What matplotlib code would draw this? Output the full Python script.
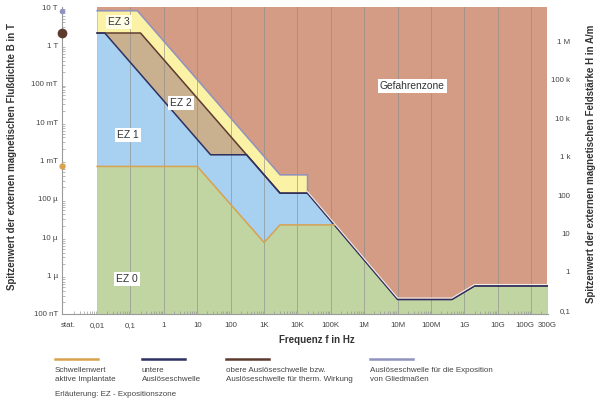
import numpy as np
import matplotlib.pyplot as plt
from matplotlib.lines import Line2D
from matplotlib.ticker import LogLocator, NullLocator
from matplotlib.transforms import offset_copy

plt.rcParams['font.family'] = ['Liberation Sans', 'DejaVu Sans']

MU0 = 4e-7 * np.pi

# Grenzwerte als Spitzenwerte: Frequenz in Hz, Flussdichte in T
limbs_f = [0.01, 0.16, 3e3, 2e4, 2e4, 1e7, 4.2e8, 2e9, 3e11]
limbs_b = [8.0, 8.0, 4.24e-4, 4.24e-4, 1.41e-4, 2.4e-7, 2.4e-7, 5.4e-7, 5.4e-7]
upper_f = [0.01, 0.2, 3e3, 2e4, 1e7, 4.2e8, 2e9, 3e11]
upper_b = [2.1, 2.1, 1.41e-4, 1.41e-4, 2.4e-7, 2.4e-7, 5.4e-7, 5.4e-7]
lower_f = [0.01, 0.017, 25, 300, 3e3, 2e4, 1e7, 4.2e8, 2e9, 3e11]
lower_b = [2.1, 2.1, 1.41e-3, 1.41e-3, 1.41e-4, 1.41e-4, 2.4e-7, 2.4e-7, 5.4e-7, 5.4e-7]
implant_f = [0.01, 10, 1e3, 3e3, 1.3e5]
implant_b = [7e-4, 7e-4, 7.3e-6, 2.1e-5, 2.1e-5]

# statische Werte (links an der Achse)
static_b = [8.0, 2.1, 7e-4]

grid_f = [0.1, 1, 10, 100, 1e3, 1e4, 1e5, 1e6, 1e7, 1e8, 1e9, 1e10, 1e11]
x_ticks = [10**-2.87, 0.01, 0.1, 1, 10, 100, 1e3, 1e4, 1e5, 1e6, 1e7, 1e8, 1e9, 1e10,
           10**10.82, 10**11.5]
x_labels = ['stat.', '0,01', '0,1', '1', '10', '100', '1K', '10K', '100K', '1M', '10M',
            '100M', '1G', '10G', '100G', '300G']
b_ticks = [10, 1, 0.1, 0.01, 1e-3, 1e-4, 1e-5, 1e-6, 1e-7]
b_labels = ['10 T', '1 T', '100 mT', '10 mT', '1 mT', '100 µ', '10 µ', '1 µ', '100 nT']
h_ticks = [1e6, 1e5, 1e4, 1e3, 100, 10, 1, 0.1]
h_labels = ['1 M', '100 k', '10 k', '1 k', '100', '10', '1', '0,1']

zones = ['EZ 3', 'EZ 2', 'EZ 1', 'EZ 0', 'Gefahrenzone']
zone_pos = [(0.046, 4.1), (3.2, 0.032), (0.085, 0.0047), (0.08, 8.3e-7), (2.7e7, 0.087)]

legend_names = ['Schwellenwert\naktive Implantate', 'untere\nAuslöseschwelle',
                'obere Auslöseschwelle bzw.\nAuslöseschwelle für therm. Wirkung',
                'Auslöseschwelle für die Exposition\nvon Gliedmaßen']

c_danger = '#d49c84'
c_ez3 = '#fbf2a6'
c_ez2 = '#c9b08f'
c_ez1 = '#a8d0f0'
c_ez0 = '#c1d5a3'
c_limbs = '#9092c0'
c_upper = '#5c3b2e'
c_lower = '#2d3063'
c_implant = '#d8a24e'
line_colors = [c_implant, c_lower, c_upper, c_limbs]

fig = plt.figure(figsize=(6.05, 4.04), dpi=100)
ax = fig.add_axes([62 / 605, 1 - 314 / 404, 486 / 605, 307 / 404])
ax.set_xscale('log')
ax.set_yscale('log')
ax.set_xlim(10**-3.05, 3e11)
ax.set_ylim(1e-7, 10)

# Flächen
ax.fill_between([0.01, 3e11], 1e-7, 10, color=c_danger, lw=0, zorder=1)
ax.fill_between(limbs_f, 1e-7, limbs_b, color=c_ez3, lw=0, zorder=1)
ax.fill_between(upper_f, 1e-7, upper_b, color=c_ez2, lw=0, zorder=1)
ax.fill_between(lower_f, 1e-7, lower_b, color=c_ez1, lw=0, zorder=1)
green_f = implant_f + [f for f in lower_f if f > implant_f[-1]]
green_b = implant_b + [b for f, b in zip(lower_f, lower_b) if f > implant_f[-1]]
ax.fill_between(green_f, 1e-7, green_b, color=c_ez0, lw=0, zorder=1)

for f in grid_f:
    ax.axvline(f, color='#8a8a8a', lw=0.7, alpha=0.6, zorder=2)

# Grenzlinien
ax.plot(limbs_f, limbs_b, color=c_limbs, lw=1.1, zorder=3)
ax.plot(upper_f, upper_b, color=c_upper, lw=1.1, zorder=3)
ax.plot(lower_f, lower_b, color=c_lower, lw=1.1, zorder=3)
ax.plot(implant_f, implant_b, color=c_implant, lw=1.1, zorder=3)
up = offset_copy(ax.transData, fig=fig, y=1.0, units='points')
ax.plot(upper_f[3:], upper_b[3:], color='#f4ece8', lw=0.8, zorder=3, transform=up)

xs = ax.get_xlim()[0]
for b, c, s in zip(static_b, [c_limbs, c_upper, c_implant], [4, 7, 4.5]):
    ax.plot(xs, b, 'o', color=c, ms=s, mec='none', clip_on=False, zorder=5)

for name, (f, b) in zip(zones, zone_pos):
    fc = '#fffde6' if name == 'EZ 3' else 'white'
    ax.text(f, b, name, fontsize=7.4, color='#333333', ha='center', va='center', zorder=4,
            bbox=dict(boxstyle='square,pad=0.2', fc=fc, ec='none'))

# Achsen
for s in ['top', 'right']:
    ax.spines[s].set_visible(False)
for s in ['left', 'bottom']:
    ax.spines[s].set_color('#9a9a9a')
    ax.spines[s].set_linewidth(0.8)

ax.set_xticks(x_ticks, x_labels)
ax.set_yticks(b_ticks, b_labels)
ax.xaxis.set_minor_locator(LogLocator(base=10, subs=np.arange(2, 10), numticks=30))
ax.yaxis.set_minor_locator(LogLocator(base=10, subs=np.arange(2, 10), numticks=30))
ax.tick_params(which='major', length=0, labelsize=5.7, labelcolor='#444444')
ax.tick_params(axis='x', which='major', pad=6)
ax.tick_params(axis='y', which='major', pad=3)
ax.tick_params(which='minor', direction='in', length=2, width=0.5, color='#9a9a9a')
# 300G sitzt am rechten Rand
ax.get_xticklabels()[-1].set_x(3e11)
ax.set_xticks(x_ticks[:-1] + [3e11], x_labels)

sec = ax.secondary_yaxis('right', functions=(lambda b: b / MU0, lambda h: h * MU0))
sec.set_yticks(h_ticks, h_labels)
sec.yaxis.set_minor_locator(NullLocator())
sec.spines['right'].set_visible(False)
sec.tick_params(length=0, pad=16, labelsize=5.7, labelcolor='#444444')
for t in sec.get_yticklabels():
    t.set_ha('right')

fig.text(12 / 605, 1 - 157 / 404, 'Spitzenwert der externen magnetischen Flußdichte B in T',
         rotation=90, ha='center', va='center', fontsize=7, fontweight='bold', color='#333333')
fig.text(591 / 605, 1 - 164 / 404, 'Spitzenwert der externen magnetischen Feldstärke H in A/m',
         rotation=90, ha='center', va='center', fontsize=7, fontweight='bold', color='#333333')
fig.text(317 / 605, 1 - 340 / 404, 'Frequenz f in Hz', ha='center', va='center',
         fontsize=7, fontweight='bold', color='#333333')

# Legende
leg_x = [55, 142, 226, 370]
for x0, c, name in zip(leg_x, line_colors, legend_names):
    fig.add_artist(Line2D([x0 / 605, (x0 + 43) / 605], [1 - 359 / 404] * 2, color=c, lw=1.8))
    fig.text(x0 / 605, 1 - 367 / 404, name, ha='left', va='top', fontsize=5.8,
             color='#444444', linespacing=1.35)
fig.text(55 / 605, 1 - 395 / 404, 'Erläuterung: EZ - Expositionszone', ha='left', va='center',
         fontsize=5.8, color='#444444')

fig.savefig('out.png', dpi=100)
